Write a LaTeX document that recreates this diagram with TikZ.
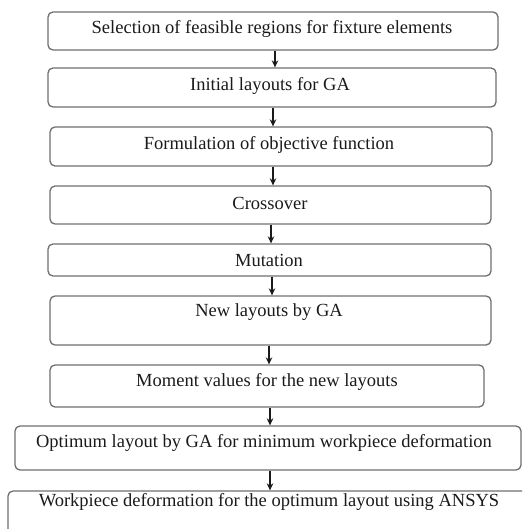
\documentclass[tikz,border=0pt]{standalone}
\usepackage{fontspec}
\setmainfont{Liberation Serif}
\usetikzlibrary{arrows.meta}
\definecolor{boxline}{HTML}{6E6E6E}
\definecolor{txtcol}{HTML}{1A1A1A}
\tikzset{
  box/.style={draw=boxline, line width=1.3pt, rounded corners=5pt, inner sep=0pt},
  txt/.style={text=txtcol, font=\fontsize{18.5}{21}\selectfont, inner sep=0pt},
  arr/.style={draw=txtcol, line width=1.3pt, -{Stealth[length=7pt,width=6.5pt]}},
}
\begin{document}
\begin{tikzpicture}[x=1pt,y=-1pt]
\useasboundingbox (0,0) rectangle (522,529);
\clip (0,0) rectangle (522,529);
% boxes
\node[box, minimum width=450, minimum height=38] (b1) at (273,31) {};
\node[box, minimum width=448, minimum height=39] (b2) at (272,87.5) {};
\node[box, minimum width=442, minimum height=39] (b3) at (271,146.5) {};
\node[box, minimum width=441, minimum height=38] (b4) at (270.5,205) {};
\node[box, minimum width=443, minimum height=32] (b5) at (269.5,260) {};
\node[box, minimum width=441, minimum height=49] (b6) at (270.5,320.5) {};
\node[box, minimum width=434, minimum height=42] (b7) at (267,386) {};
\node[box, minimum width=506, minimum height=44] (b8) at (268,448) {};
\node[box, minimum width=532, minimum height=56] (b9) at (274,519) {};
% texts
\node[txt] (t1) at (272,29) {Selection of feasible regions for fixture elements};
\node[txt] (t2) at (270,86) {Initial layouts for GA};
\node[txt] (t3) at (269,145) {Formulation of objective function};
\node[txt] (t4) at (270,203) {Crossover};
\node[txt] (t5) at (269,260) {Mutation};
\node[txt] (t6) at (269,312) {New layouts by GA};
\node[txt] (t7) at (267,382) {Moment values for the new layouts};
\node[txt] (t8) at (264,443) {Optimum layout by GA for minimum workpiece deformation};
\node[txt] (t9) at (269,502) {Workpiece deformation for the optimum layout using ANSYS};
% arrow positions
\coordinate (x1) at (275,0);
\coordinate (x2) at (273,0);
\coordinate (x3) at (273,0);
\coordinate (x4) at (271,0);
\coordinate (x5) at (272,0);
\coordinate (x6) at (269,0);
\coordinate (x7) at (270,0);
\coordinate (x8) at (270,0);
% arrows
\draw[arr] (b1.south -| x1) -- (b2.north -| x1);
\draw[arr] (b2.south -| x2) -- (b3.north -| x2);
\draw[arr] (b3.south -| x3) -- (b4.north -| x3);
\draw[arr] (b4.south -| x4) -- (b5.north -| x4);
\draw[arr] (b5.south -| x5) -- (b6.north -| x5);
\draw[arr] (b6.south -| x6) -- (b7.north -| x6);
\draw[arr] (b7.south -| x7) -- (b8.north -| x7);
\draw[arr] (b8.south -| x8) -- (b9.north -| x8);
\end{tikzpicture}
\end{document}
